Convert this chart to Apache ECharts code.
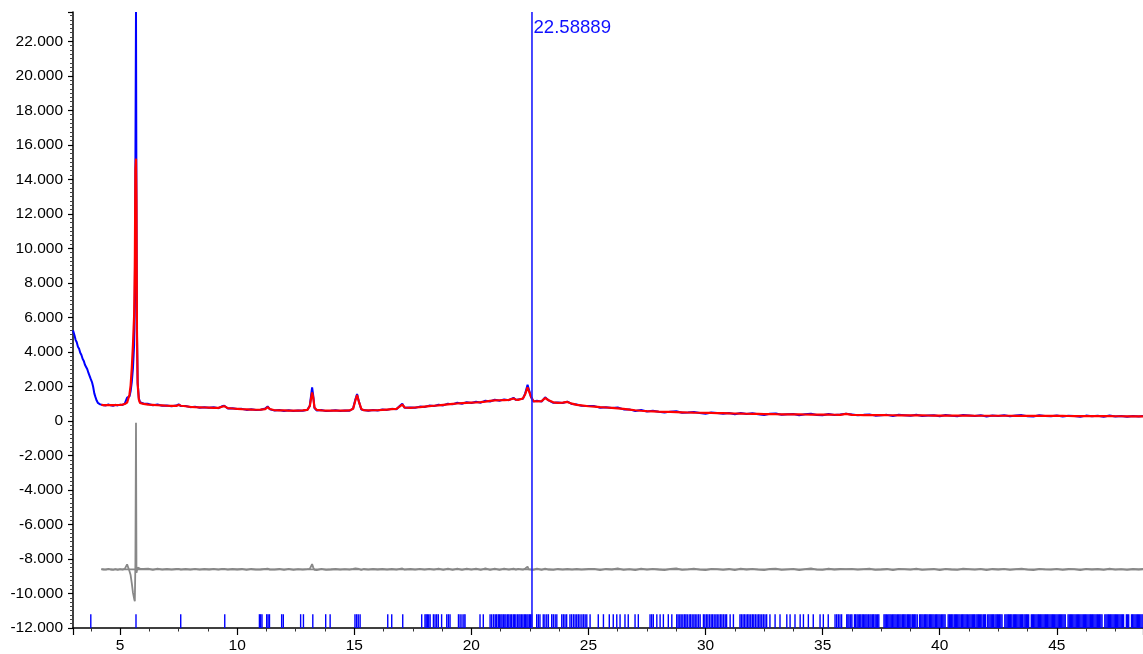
<!DOCTYPE html>
<html><head><meta charset="utf-8">
<script src="https://cdn.jsdelivr.net/npm/echarts@6/dist/echarts.min.js"></script>
<style>html,body{margin:0;padding:0;background:#fff}#c{width:1143px;height:654px}</style>
</head><body><div id="c"></div>
<script>
// 2-theta positions (degrees)
const twoTheta = [
  2.99, 3.05, 3.1, 3.15, 3.2, 3.25, 3.3, 3.35, 3.4, 3.45,
  3.5, 3.55, 3.6, 3.65, 3.7, 3.75, 3.8, 3.85, 3.9, 3.95,
  4.0, 4.05, 4.1, 4.15,
  4.2, 4.3, 4.4, 4.5, 4.6, 4.7, 4.8, 4.9, 5.0, 5.1, 5.2,
  5.25, 5.3, 5.35, 5.4, 5.45, 5.5, 5.55, 5.6, 5.63, 5.655, 5.68, 5.7, 5.72, 5.75, 5.8, 5.85, 5.9,
  6.0, 6.2, 6.4, 6.6, 6.8, 7.0, 7.2, 7.4, 7.5, 7.6,
  7.8, 8.0, 8.2, 8.4, 8.6, 8.8, 9.0, 9.2, 9.35, 9.45,
  9.6, 9.8, 10.0, 10.2, 10.4, 10.6, 10.8, 11.0, 11.2, 11.3,
  11.4, 11.6, 11.8, 12.0, 12.2, 12.4, 12.6, 12.8, 13.0, 13.1,
  13.2, 13.25, 13.3, 13.4, 13.6, 13.8, 14.0, 14.2, 14.4, 14.6,
  14.8, 14.95, 15.05, 15.12, 15.2, 15.3, 15.4, 15.6, 15.8, 16.0,
  16.2, 16.4, 16.6, 16.8, 16.95, 17.05, 17.15, 17.4, 17.6, 17.8,
  18.0, 18.2, 18.4, 18.6, 18.8, 19.0, 19.2, 19.4, 19.6, 19.8,
  20.0, 20.2, 20.4, 20.6, 20.8, 21.0, 21.2, 21.4, 21.6, 21.8,
  21.9, 22.0, 22.2, 22.3, 22.4, 22.45, 22.55, 22.65, 22.8, 23.0,
  23.15, 23.3, 23.5, 23.7, 23.9, 24.1, 24.3, 24.5, 24.7, 25.0,
  25.25, 25.5, 25.75, 26.0, 26.25, 26.5, 26.75, 27.0,
  27.25, 27.5, 27.75, 28.0, 28.25, 28.5, 28.75, 29.0,
  29.25, 29.5, 29.75, 30.0, 30.25, 30.5, 30.75, 31.0,
  31.25, 31.5, 31.75, 32.0, 32.25, 32.5, 32.75, 33.0,
  33.25, 33.5, 33.75, 34.0, 34.25, 34.5, 34.75, 35.0,
  35.25, 35.5, 35.75, 36.0, 36.25, 36.5, 36.75, 37.0,
  37.25, 37.5, 37.75, 38.0, 38.25, 38.5, 38.75, 39.0,
  39.25, 39.5, 39.75, 40.0, 40.25, 40.5, 40.75, 41.0,
  41.25, 41.5, 41.75, 42.0, 42.25, 42.5, 42.75, 43.0,
  43.25, 43.5, 43.75, 44.0, 44.25, 44.5, 44.75, 45.0,
  45.25, 45.5, 45.75, 46.0, 46.25, 46.5, 46.75, 47.0,
  47.25, 47.5, 47.75, 48.0, 48.25, 48.5, 48.75
];
// observed intensity
const observed = [
  5250, 4980, 4700, 4560, 4300, 4180, 3950, 3820, 3600, 3480,
  3260, 3150, 3000, 2780, 2720, 2420, 2250, 1980, 1600, 1380,
  1180, 1050, 990, 960,
  940, 910, 900, 950, 905, 880, 935, 900, 945, 925, 1010,
  1100, 1350, 1300, 1420, 1720, 2250, 3050, 4400, 7100, 15000, 23700, 12500, 5200, 2250, 1330, 1080, 1060,
  1010, 990, 905, 950, 880, 900, 850, 890, 960, 860,
  870, 800, 830, 770, 800, 760, 790, 740, 850, 880,
  720, 740, 690, 700, 640, 680, 630, 650, 720, 840,
  670, 600, 630, 580, 620, 570, 610, 590, 650, 880,
  1950, 1450, 750, 600, 630, 570, 590, 620, 580, 610,
  590, 720, 1250, 1560, 1120, 660, 640, 590, 640, 610,
  660, 640, 700, 680, 880, 1000, 760, 780, 760, 830,
  810, 890, 860, 940, 900, 1000, 960, 1050, 1000, 1090,
  1040, 1110, 1060, 1170, 1130, 1230, 1170, 1250, 1200, 1340,
  1220, 1250, 1280, 1600, 2100, 2050, 1380, 1120, 1170, 1120,
  1370, 1190, 1050, 1070, 1040, 1120, 980, 950, 880, 870,
  860, 760, 800, 750, 780, 670, 670, 570,
  630, 550, 585, 530, 490, 540, 560, 470,
  490, 520, 455, 420, 492, 465, 418, 460,
  392, 465, 408, 440, 385, 350, 415, 430,
  356, 382, 408, 335, 382, 420, 347, 335,
  402, 348, 375, 420, 378, 325, 352, 380,
  308, 325, 352, 290, 358, 335, 302, 360,
  288, 315, 332, 270, 339, 298, 276, 345,
  314, 282, 331, 260, 320, 290, 330, 270,
  309, 338, 276, 255, 324, 292, 271, 320,
  258, 305, 292, 240, 309, 268, 296, 245,
  314, 252, 281, 240, 288, 257, 295
];
// calculated intensity (null where not refined)
const calculated = [
  null, null, null, null, null, null, null, null, null, null,
  null, null, null, null, null, null, null, null, null, null,
  null, null, null, null,
  930, 920, 915, 915, 915, 918, 920, 925, 930, 945, 980,
  1020, 1060, 1120, 1520, 2050, 3050, 4400, 6100, 8950, 14600, 15200, 12700, 5300, 2150, 1250, 1040, 1010,
  990, 950, 930, 910, 900, 880, 870, 870, 930, 880,
  850, 820, 800, 790, 780, 770, 760, 760, 820, 860,
  740, 720, 700, 680, 670, 660, 650, 660, 690, 800,
  690, 620, 610, 610, 600, 600, 600, 610, 640, 850,
  1650, 1350, 780, 640, 610, 600, 600, 600, 600, 600,
  610, 700, 1200, 1500, 1100, 700, 620, 610, 620, 620,
  640, 660, 680, 700, 850, 950, 780, 760, 780, 800,
  830, 860, 880, 900, 930, 960, 990, 1010, 1030, 1050,
  1060, 1070, 1090, 1120, 1160, 1190, 1200, 1210, 1220, 1300,
  1240, 1220, 1300, 1550, 1950, 2050, 1400, 1150, 1130, 1150,
  1330, 1200, 1080, 1050, 1060, 1100, 1000, 930, 900, 850,
  830, 800, 780, 760, 730, 700, 660, 620,
  590, 570, 555, 540, 530, 520, 510, 500,
  490, 480, 475, 470, 462, 455, 448, 440,
  432, 425, 418, 410, 405, 400, 395, 390,
  386, 382, 378, 375, 372, 370, 367, 365,
  362, 358, 355, 410, 348, 345, 342, 340,
  338, 335, 332, 330, 328, 325, 322, 320,
  318, 315, 312, 310, 309, 308, 306, 305,
  304, 302, 301, 300, 300, 300, 300, 300,
  299, 298, 296, 295, 294, 292, 291, 290,
  288, 285, 282, 280, 279, 278, 276, 275,
  274, 272, 271, 270, 268, 267, 265
];
const diffOffset = -8600;
// Bragg reflection positions (degrees)
const reflections = [
  3.75, 5.68, 7.59, 9.47, 10.95, 11.0, 11.06, 11.26, 11.32, 11.38, 11.9, 11.97, 12.71, 12.83, 13.23,
  13.78, 13.97, 15.03, 15.1, 15.17, 15.25, 16.43, 16.6, 17.07, 17.88, 18.02, 18.07, 18.12, 18.18, 18.24,
  18.38, 18.45, 18.52, 18.59, 18.73, 18.95, 19.02, 19.09, 19.45, 19.52, 19.6, 19.68, 19.73, 20.37, 20.51,
  20.8, 20.87, 20.95, 21.02, 21.08, 21.15, 21.2, 21.26, 21.31, 21.37, 21.43, 21.48, 21.55, 21.6, 21.66,
  21.72, 21.79, 21.84, 21.9, 21.97, 22.03, 22.08, 22.14, 22.2, 22.26, 22.31, 22.37, 22.42, 22.48, 22.53, 22.58,
  22.79, 22.86, 22.93, 23.07, 23.14, 23.22, 23.29, 23.43, 23.5, 23.58, 23.65, 23.86, 23.93, 24.0, 24.07,
  24.21, 24.28, 24.36, 24.43, 24.5, 24.57, 24.64, 24.72, 24.79, 24.86, 24.93, 25.07, 25.42, 25.64, 25.89,
  26.06, 26.21, 26.35, 26.56, 26.7, 26.99, 27.13, 27.63, 27.7, 27.77, 27.92, 28.06, 28.2, 28.41, 28.56,
  28.77, 28.83, 28.9, 28.96, 29.03, 29.1, 29.16, 29.22, 29.3, 29.36, 29.43, 29.5, 29.56, 29.63, 29.7, 29.77,
  29.91, 29.97, 30.04, 30.1, 30.17, 30.24, 30.3, 30.37, 30.44, 30.5, 30.57, 30.64, 30.7, 30.77, 30.84, 30.9,
  31.05, 31.19, 31.47, 31.53, 31.6, 31.66, 31.73, 31.8, 31.86, 31.93, 32.0, 32.06, 32.13, 32.2, 32.27,
  32.33, 32.4, 32.47, 32.54, 32.61, 32.75, 32.97, 33.18, 33.47, 33.61, 33.82, 34.04, 34.18, 34.39, 34.6,
  34.89, 35.03, 35.24, 35.53, 35.6, 35.67, 35.74, 35.81, 36.03,
  36.08, 36.13, 36.2, 36.25, 36.36, 36.41, 36.47, 36.52, 36.58, 36.63, 36.69, 36.74, 36.8, 36.85, 36.9,
  36.96, 37.02, 37.07, 37.13, 37.18, 37.24, 37.29, 37.35, 37.4,
  37.62, 37.67, 37.72, 37.78, 37.83, 37.88, 37.93, 37.99, 38.04, 38.09, 38.14, 38.2, 38.25, 38.3, 38.35,
  38.41, 38.46, 38.51, 38.56, 38.62, 38.67, 38.72, 38.77, 38.83, 38.88, 38.93, 38.98, 39.04,
  39.14, 39.19, 39.24, 39.29, 39.35, 39.4, 39.45, 39.5, 39.56, 39.61, 39.66, 39.71, 39.76, 39.82, 39.87,
  39.92, 39.97, 40.02, 40.08, 40.13, 40.18, 40.23,
  40.36, 40.41, 40.46, 40.51, 40.56, 40.62, 40.67, 40.72, 40.77, 40.82, 40.87, 40.93, 40.98, 41.03, 41.08,
  41.13, 41.18, 41.24, 41.29, 41.34, 41.39, 41.44, 41.49, 41.55, 41.6, 41.65, 41.7, 41.75, 41.8, 41.86,
  41.91, 41.96,
  42.05, 42.1, 42.15, 42.2, 42.25, 42.3, 42.36, 42.41, 42.46, 42.51, 42.56, 42.61, 42.66,
  42.78, 42.83, 42.88, 42.93, 42.98, 43.03, 43.08, 43.14, 43.19, 43.24, 43.29, 43.34, 43.39, 43.44, 43.49,
  43.54, 43.6, 43.65, 43.7, 43.75, 43.8,
  43.91, 43.96, 44.01, 44.06, 44.11, 44.16, 44.21, 44.26, 44.31, 44.36, 44.41, 44.46, 44.51, 44.56, 44.61,
  44.66, 44.71, 44.76, 44.81, 44.86, 44.91, 44.96, 45.01, 45.06, 45.11, 45.16, 45.21, 45.26, 45.31, 45.36,
  45.48, 45.53, 45.58, 45.63, 45.68, 45.73, 45.78, 45.83, 45.88, 45.93, 45.98, 46.03, 46.08, 46.13, 46.18,
  46.23, 46.28, 46.33, 46.38, 46.43, 46.48, 46.53, 46.58, 46.63, 46.68, 46.73, 46.78, 46.83, 46.88, 46.93,
  47.05, 47.1, 47.15, 47.2, 47.25, 47.3, 47.35, 47.4, 47.45, 47.5, 47.55, 47.6, 47.65, 47.7, 47.75, 47.8, 47.85,
  47.97, 48.02, 48.07,
  48.19, 48.24, 48.29, 48.34, 48.39, 48.44, 48.49, 48.54, 48.59, 48.64, 48.69
];
const reflTickBottom = -12000;
const reflTickTop = -11200;
const cursorPos = 22.58889;
const xMin = 2.99, xMax = 48.68;
const yMin = -12000, yMax = 23700, yStep = 2000;

const FONT = '"Liberation Sans", Arial, sans-serif';
const obsData = twoTheta.map((x, i) => [x, observed[i]]);
const calcData = [], diffData = [];
twoTheta.forEach((x, i) => {
  if (calculated[i] != null) {
    calcData.push([x, calculated[i]]);
    diffData.push([x, observed[i] - calculated[i] + diffOffset]);
  }
});
const zeroLine = [[calcData[0][0], diffOffset], [xMax, diffOffset]];

const chart = echarts.init(document.getElementById('c'), null, {renderer: 'canvas'});
chart.setOption({
  animation: false,
  backgroundColor: '#fff',
  grid: {left: 73, right: 0, top: 12, bottom: 26, containLabel: false},
  xAxis: {
    type: 'value', min: xMin, max: xMax, splitNumber: 9,
    axisLine: {onZero: false, lineStyle: {color: '#000', width: 1.5}},
    axisTick: {length: 7, lineStyle: {color: '#000', width: 1.2}},
    minorTick: {show: true, splitNumber: 4, length: 3.5, lineStyle: {color: '#333'}},
    axisLabel: {color: '#000', fontSize: 15.5, fontFamily: FONT, margin: 10, showMinLabel: false, showMaxLabel: false},
    splitLine: {show: false}
  },
  yAxis: {
    type: 'value', min: yMin, max: yMax, interval: yStep,
    axisLine: {show: true, lineStyle: {color: '#000', width: 1.5}},
    axisTick: {show: true, length: 5, lineStyle: {color: '#000', width: 1.2}},
    minorTick: {show: true, splitNumber: 8, length: 3, lineStyle: {color: '#444'}},
    axisLabel: {
      color: '#000', fontSize: 15.5, fontFamily: FONT, margin: 10, showMaxLabel: false,
      formatter: v => v === 0 ? '0' : (v / 1000).toFixed(3)
    },
    splitLine: {show: false}
  },
  series: [
    {type: 'line', data: zeroLine, symbol: 'none', lineStyle: {color: '#888888', width: 1.8}, z: 2},
    {type: 'line', data: diffData, symbol: 'none', lineStyle: {color: '#888888', width: 1.8}, z: 3},
    {type: 'line', data: obsData, symbol: 'none', lineStyle: {color: '#0000ff', width: 2}, z: 4},
    {type: 'line', data: calcData, symbol: 'none', lineStyle: {color: '#ff0000', width: 2.2}, z: 5},
    {
      type: 'custom', z: 6,
      data: reflections.map(v => [v, reflTickTop]),
      encode: {x: 0, y: 1},
      renderItem: (params, api) => {
        const x = api.value(0);
        const p1 = api.coord([x, reflTickBottom]);
        const p2 = api.coord([x, reflTickTop]);
        return {type: 'line', shape: {x1: p1[0], y1: p1[1], x2: p2[0], y2: p2[1]},
          style: {stroke: '#0000ff', lineWidth: 1.4}};
      }
    },
    {
      type: 'custom', z: 7, clip: false,
      data: [[cursorPos, yMax]],
      encode: {x: 0, y: 1},
      renderItem: (params, api) => {
        const x = api.value(0);
        const pTop = api.coord([x, yMax]);
        const pBot = api.coord([x, yMin]);
        return {type: 'group', children: [
          {type: 'line', shape: {x1: pTop[0], y1: pTop[1], x2: pBot[0], y2: pBot[1]},
            style: {stroke: '#1a1aff', lineWidth: 1.6}},
          {type: 'text', style: {text: String(cursorPos), x: pTop[0] + 1.5, y: pTop[1] + 16,
            fill: '#1010ff', font: '18.6px ' + FONT, align: 'left', verticalAlign: 'middle'}}
        ]};
      }
    }
  ]
});
</script></body></html>
